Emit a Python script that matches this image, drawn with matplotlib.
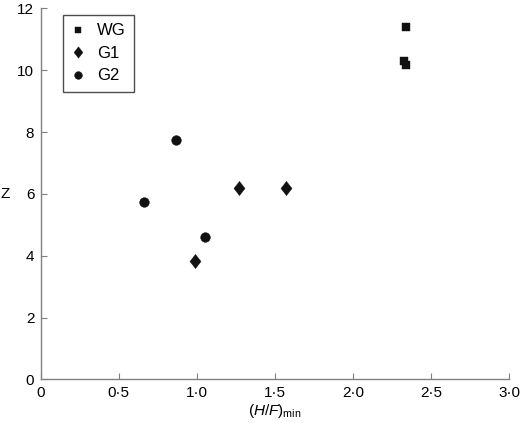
import matplotlib
matplotlib.use("Agg")
import matplotlib.pyplot as plt

plt.rcParams['font.family'] = ['Liberation Sans', 'DejaVu Sans']
plt.rcParams['mathtext.fontset'] = 'custom'
plt.rcParams['mathtext.rm'] = 'Liberation Sans'
plt.rcParams['mathtext.it'] = 'Liberation Sans:italic'

# data
wg_x = [2.34, 2.33, 2.34]
wg_y = [11.4, 10.3, 10.17]
g1_x = [0.99, 1.27, 1.57]
g1_y = [3.82, 6.19, 6.19]
g2_x = [0.66, 0.87, 1.05]
g2_y = [5.73, 7.76, 4.6]

xticks = [0, 0.5, 1.0, 1.5, 2.0, 2.5, 3.0]
xlabels = ['0', '0·5', '1·0', '1·5', '2·0', '2·5', '3·0']
yticks = [0, 2, 4, 6, 8, 10, 12]

# diamond a bit wider than matplotlib's thin diamond
diamond = [(0, 1), (0.78, 0), (0, -1), (-0.78, 0), (0, 1)]

fig = plt.figure(figsize=(5.2, 4.23), dpi=100)
ax = fig.add_axes([0.078, 0.103, 0.901, 0.877])

ax.plot(wg_x, wg_y, 's', color='#111111', markersize=5.8, mew=0.3, label='WG', linestyle='none')
ax.plot(g1_x, g1_y, marker=diamond, color='#111111', markersize=10.2, mew=0.3, label='G1', linestyle='none')
ax.plot(g2_x, g2_y, 'o', color='#111111', markersize=7, mew=0.3, label='G2', linestyle='none')

ax.set_xlim(0, 3.0)
ax.set_ylim(0, 12)
ax.set_xticks(xticks)
ax.set_xticklabels(xlabels)
ax.set_yticks(yticks)

for s in ['top', 'right']:
    ax.spines[s].set_visible(False)
for s in ['left', 'bottom']:
    ax.spines[s].set_color('#808080')
    ax.spines[s].set_linewidth(1.0)
ax.tick_params(direction='in', length=4, color='#808080', labelsize=11, pad=4.5)

ax.set_xlabel(r'$(\mathit{H/F})_{\mathrm{min}}$', fontsize=11, labelpad=2)
ax.set_ylabel('Z', fontsize=11, rotation=0, labelpad=9, va='center')

leg = ax.legend(loc='upper left', bbox_to_anchor=(0.0475, 0.982), frameon=True,
                fancybox=False, edgecolor='#222222', fontsize=12,
                handletextpad=0.72, labelspacing=0.45, borderpad=0.5,
                handlelength=0.85, numpoints=1, markerscale=0.8,
                borderaxespad=0)
leg.get_frame().set_linewidth(1.0)

fig.savefig('out.png', dpi=100)
